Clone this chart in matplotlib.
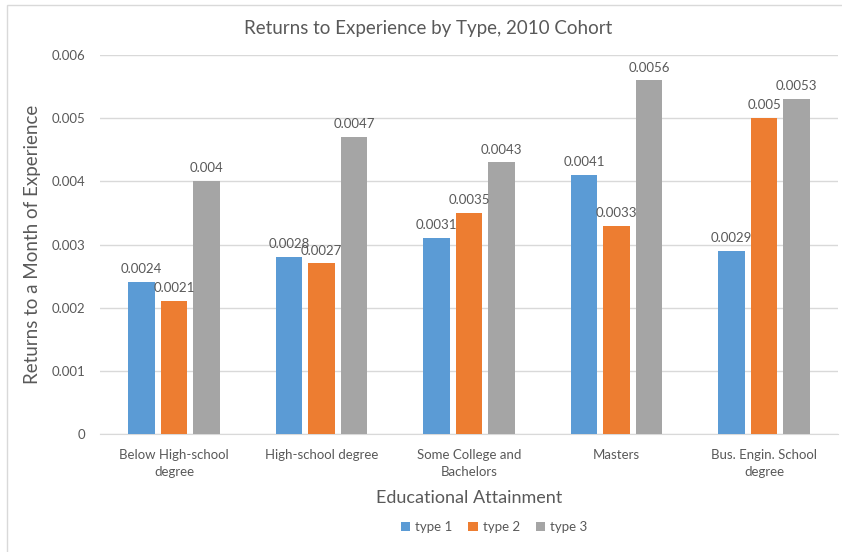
import matplotlib.pyplot as plt
import numpy as np
from matplotlib.patches import Rectangle

categories = ['Below High-school\ndegree', 'High-school degree', 'Some College and\nBachelors',
              'Masters', 'Bus. Engin. School\ndegree']
type1 = [0.0024, 0.0028, 0.0031, 0.0041, 0.0029]
type2 = [0.0021, 0.0027, 0.0035, 0.0033, 0.005]
type3 = [0.004, 0.0047, 0.0043, 0.0056, 0.0053]
series_names = ['type 1', 'type 2', 'type 3']
yticks = [0, 0.001, 0.002, 0.003, 0.004, 0.005, 0.006]

colors = ['#5B9BD5', '#ED7D31', '#A5A5A5']
txt = '#595959'

plt.rcParams['font.family'] = ['Lato', 'DejaVu Sans']

fig = plt.figure(figsize=(8.42, 5.52), dpi=100)
ax = fig.add_axes([0.119, 0.214, 0.876, 0.686])

# 图外框
fig.patches.append(Rectangle((7 / 842, -0.1), 1.2, 1 - 5 / 552 + 0.1, transform=fig.transFigure,
                             fill=False, edgecolor='#D9D9D9', linewidth=1))

x = np.arange(len(categories))
width = 0.18
offsets = [-0.22, 0, 0.22]
for vals, off, c, name in zip([type1, type2, type3], offsets, colors, series_names):
    bars = ax.bar(x + off, vals, width=width, color=c, label=name, zorder=3)
    for b, v in zip(bars, vals):
        ax.text(b.get_x() + b.get_width() / 2, v + 0.00011, f'{v:g}', ha='center', va='bottom',
                fontsize=9.5, color=txt, zorder=4)

ax.set_xlim(-0.5, len(categories) - 0.5)
ax.set_ylim(0, 0.006)
ax.set_yticks(yticks)
ax.set_yticklabels([f'{t:g}' for t in yticks])
ax.set_xticks(x)
ax.set_xticklabels(categories, linespacing=1.45)
ax.yaxis.grid(True, color='#D9D9D9', linewidth=1, zorder=0)
ax.tick_params(axis='both', length=0, labelsize=9.5, colors=txt)
ax.tick_params(axis='y', pad=11)
ax.tick_params(axis='x', pad=11)
for s in ['top', 'right', 'left']:
    ax.spines[s].set_visible(False)
ax.spines['bottom'].set_color('#D9D9D9')

fig.text(0.508, 0.949, 'Returns to Experience by Type, 2010 Cohort', ha='center', va='center',
         fontsize=13.5, color=txt)
ax.set_xlabel('Educational Attainment', fontsize=13, color=txt, labelpad=9)
ax.set_ylabel('Returns to a Month of Experience', fontsize=13.5, color=txt, labelpad=7)

fig.legend(loc='center', bbox_to_anchor=(0.587, 0.045), ncol=3, frameon=False,
           fontsize=9.5, labelcolor=txt, handlelength=0.7, handleheight=0.7,
           handletextpad=0.4, columnspacing=1.2)

fig.savefig('out.png', dpi=100)
